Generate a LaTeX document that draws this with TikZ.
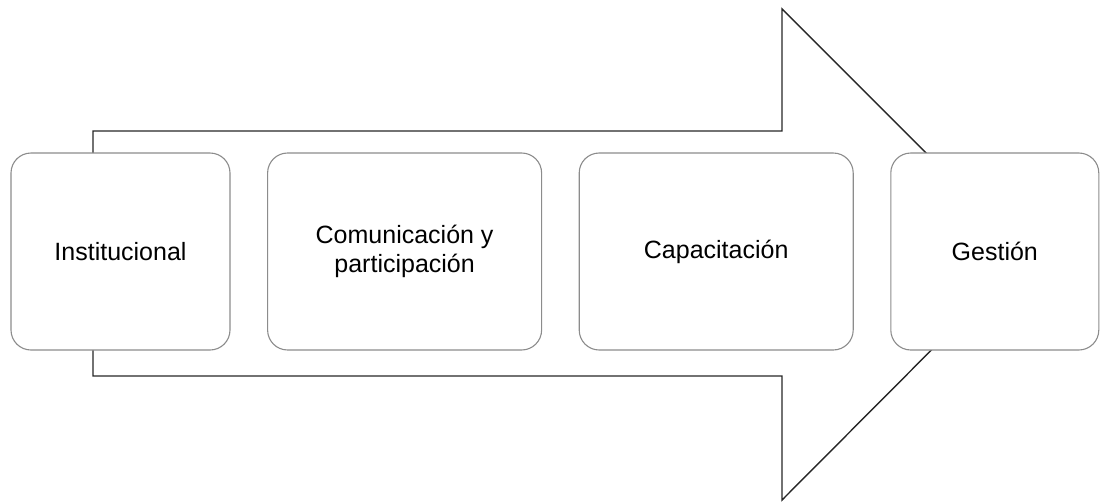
\documentclass[tikz,border=0pt]{standalone}
\usepackage{fontspec}
\setmainfont{Liberation Sans}
\usetikzlibrary{positioning}

\begin{document}
\begin{tikzpicture}[x=1pt,y=-1pt,
            stage/.style={
                rectangle, draw=black!45, line width=1.1pt, fill=white,
                rounded corners=20pt, minimum height=197pt, inner sep=0pt,
                align=center, font=\fontsize{25}{29}\selectfont},
            bigarrow/.style={draw=black!85, line width=1.4pt, line join=miter},
            node distance=36.5pt]

            \useasboundingbox (0,0) rectangle (1110,501);

            % the big arrow behind the stages
            \draw [bigarrow] (93,131) -- (782,131) -- (782,9) -- (1027,254)
                -- (782,500) -- (782,376) -- (93,376) -- cycle;

            \node [stage,minimum width=219pt] (inst) at (120.5,251.5) {Institucional};
            \node [stage,minimum width=274pt,right=of inst] (com)
                {Comunicación y\\participación};
            \node [stage,minimum width=274pt,right=of com] (cap) {Capacitación};
            \node [stage,minimum width=208pt,right=of cap] (gest) {Gestión};

        \end{tikzpicture}
\end{document}
